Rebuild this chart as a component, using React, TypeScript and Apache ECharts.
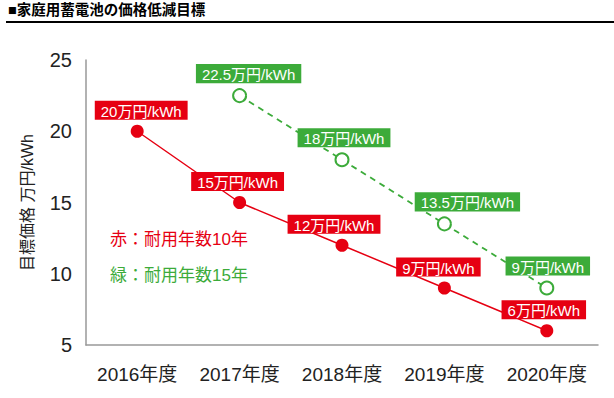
import React, { useEffect, useRef } from "react";
import * as echarts from "echarts";

const categories = ["2016年度", "2017年度", "2018年度", "2019年度", "2020年度"];
const life10 = [20, 15, 12, 9, 6];
const life15: (number | null)[] = [null, 22.5, 18, 13.5, 9];
const yTicks = { min: 5, max: 25, interval: 5 };
const titleText = "■家庭用蓄電池の価格低減目標";
const yAxisName = "目標価格 万円/kWh";
const legend10 = "赤：耐用年数10年";
const legend15 = "緑：耐用年数15年";
const unit = "万円/kWh";

// label horizontal offsets (px), style only
const off10 = [4, -2, -8, -6, -3];
const off15 = [0, 9, 2, 23, 1];

const RED = "#e60012";
const GREEN = "#3cab3a";
const FONT = "'Liberation Sans', 'Noto Sans CJK JP', sans-serif";

export default function App() {
  const ref = useRef<HTMLDivElement>(null);
  useEffect(() => {
    if (!ref.current) return;
    const chart = echarts.init(ref.current, undefined, { renderer: "svg" });
    const labelBase = {
      show: true,
      position: "top" as const,
      distance: 5,
      color: "#fff",
      fontSize: 15,
      fontFamily: FONT,
      padding: [3, 6, 1, 6],
      formatter: (p: any) => `${p.value}${unit}`,
    };
    chart.setOption({
      animation: false,
      textStyle: { fontFamily: FONT },
      grid: { left: 86, right: 16, top: 60, bottom: 53, containLabel: false },
      xAxis: {
        type: "category",
        data: categories,
        boundaryGap: true,
        axisLine: { show: true, lineStyle: { color: "#999", width: 1.5 } },
        axisTick: { show: false },
        axisLabel: { color: "#222", fontSize: 19, margin: 20, interval: 0, hideOverlap: false, fontFamily: FONT },
        splitLine: { show: false },
      },
      yAxis: {
        type: "value",
        min: yTicks.min,
        max: yTicks.max,
        interval: yTicks.interval,
        name: yAxisName,
        nameLocation: "middle",
        nameGap: 51,
        nameRotate: 90,
        nameTextStyle: { color: "#222", fontSize: 16, fontFamily: FONT },
        axisLine: { show: true, lineStyle: { color: "#999", width: 1.5 } },
        axisTick: { show: false },
        axisLabel: { color: "#222", fontSize: 20, margin: 14, fontFamily: FONT },
        splitLine: { show: false },
      },
      series: [
        {
          type: "line",
          data: life15.map((v, i) =>
            v == null
              ? null
              : { value: v, label: { offset: [off15[i], 0] } }
          ),
          symbol: "emptyCircle",
          symbolSize: 13,
          connectNulls: false,
          lineStyle: { color: GREEN, width: 1.8, type: [6, 5] },
          itemStyle: { color: GREEN, borderWidth: 2 },
          label: { ...labelBase, backgroundColor: GREEN },
          z: 2,
        },
        {
          type: "line",
          data: life10.map((v, i) => ({ value: v, label: { offset: [off10[i], 0] } })),
          symbol: "circle",
          symbolSize: 13,
          lineStyle: { color: RED, width: 1.5 },
          itemStyle: { color: RED },
          label: { ...labelBase, backgroundColor: RED },
          z: 3,
        },
      ],
      graphic: [
        {
          type: "text",
          left: 8,
          top: 3,
          style: { text: titleText, fill: "#000", font: `bold 14.5px ${FONT}` },
        },
        {
          type: "rect",
          shape: { x: 6, y: 21, width: 608, height: 2 },
          style: { fill: "#000" },
        },
        {
          type: "text",
          left: 110,
          top: 231,
          style: { text: legend10, fill: RED, font: `17px ${FONT}` },
        },
        {
          type: "text",
          left: 110,
          top: 267,
          style: { text: legend15, fill: GREEN, font: `17px ${FONT}` },
        },
      ],
    });
    return () => chart.dispose();
  }, []);
  return (
    <div
      ref={ref}
      style={{ position: "fixed", left: 0, top: 0, width: 614, height: 398, background: "#fff" }}
    />
  );
}
